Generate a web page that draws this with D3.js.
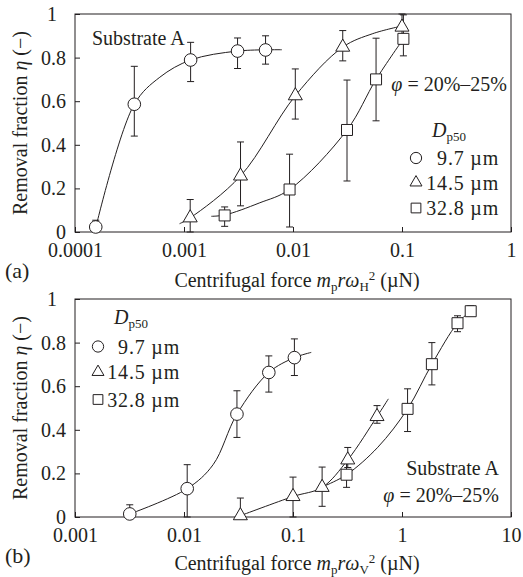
<!DOCTYPE html>
<html>
<head>
<meta charset="utf-8">
<script src="https://cdn.jsdelivr.net/npm/d3@7"></script>
</head>
<body style="margin:0;background:#fff">
<div id="container"></div>
<script>
const width = 523; // page size
const height = 577;
const marginLeft = 75; // left edge of both plot frames
const plotWidth = 436;
const plotHeight = 218;
const ink = "#231f20";
const serif = "Liberation Serif";
const fontSize = 20;
const smallSize = 13;

// shared bits
const sizeLabels = ["9.7 µm", "14.5 µm", "32.8 µm"];
const shapes = ["circle", "triangle", "square"];
const yTicks = [0, 0.2, 0.4, 0.6, 0.8, 1];
const yTickLabels = ["0", "0.2", "0.4", "0.6", "0.8", "1"];

// (a) force mp r ωH^2 (µN)
const xTicksA = [0.0001, 0.001, 0.01, 0.1, 1];
const xTickLabelsA = ["0.0001", "0.001", "0.01", "0.1", "1"];

const forceA97 = [0.000155, 0.00035, 0.00115, 0.0031, 0.0056];
const etaA97 = [0.023, 0.586, 0.789, 0.830, 0.835];
const lowA97 = [0.0, 0.44, 0.69, 0.75, 0.77];
const highA97 = [0.054, 0.76, 0.87, 0.89, 0.90];

const forceA145 = [0.00114, 0.0033, 0.0105, 0.0286, 0.1];
const etaA145 = [0.065, 0.257, 0.625, 0.848, 0.94];
const lowA145 = [0.0, 0.12, 0.518, 0.785, 0.878];
const highA145 = [0.149, 0.413, 0.748, 0.924, 1.0];

const forceA328 = [0.00236, 0.0093, 0.0313, 0.0578, 0.103];
const etaA328 = [0.076, 0.195, 0.468, 0.70, 0.886];
const lowA328 = [0.026, 0.023, 0.234, 0.51, 0.808];
const highA328 = [0.115, 0.357, 0.697, 0.889, 0.996];

// fitted curves in (a)
const fitA97 = [[0.000155, 0.02], [0.00035, 0.586], [0.0006, 0.71], [0.00115, 0.789], [0.0031, 0.83], [0.0079, 0.836]];
const fitA145 = [[0.00091, 0.038], [0.00114, 0.065], [0.0033, 0.257], [0.0105, 0.625], [0.0286, 0.848], [0.054, 0.91], [0.1, 0.945]];
const fitA328 = [[0.00178, 0.072], [0.00236, 0.078], [0.0049, 0.133], [0.0093, 0.195], [0.0313, 0.468], [0.0578, 0.70], [0.103, 0.886]];

// (b) force mp r ωV^2 (µN)
const xTicksB = [0.001, 0.01, 0.1, 1, 10];
const xTickLabelsB = ["0.001", "0.01", "0.1", "1", "10"];

const forceB97 = [0.00318, 0.0107, 0.0306, 0.06, 0.103];
const etaB97 = [0.014, 0.13, 0.472, 0.663, 0.731];
const lowB97 = [0.0, 0.0, 0.365, 0.573, 0.649];
const highB97 = [0.056, 0.24, 0.579, 0.739, 0.817];

const forceB145 = [0.0329, 0.1, 0.185, 0.318, 0.59];
const etaB145 = [0.006, 0.094, 0.136, 0.262, 0.461];
const lowB145 = [0.0, 0.0, 0.049, 0.227, 0.43];
const highB145 = [0.087, 0.183, 0.229, 0.319, 0.511];

const forceB328 = [0.31, 1.125, 1.88, 3.23, 4.27];
const etaB328 = [0.194, 0.496, 0.701, 0.889, 0.944];
const lowB328 = [0.136, 0.392, 0.606, 0.85, 0.935];
const highB328 = [0.25, 0.588, 0.80, 0.923, 0.969];

const fitB97 = [[0.00318, 0.014], [0.0107, 0.13], [0.0185, 0.24], [0.0306, 0.472], [0.06, 0.663], [0.103, 0.731], [0.147, 0.755]];
const fitB145 = [[0.0329, 0.006], [0.1, 0.094], [0.185, 0.136], [0.318, 0.262], [0.59, 0.461], [0.75, 0.542]];
const fitB328 = [[0.2, 0.145], [0.31, 0.194], [0.6, 0.32], [1.125, 0.496], [1.88, 0.701], [3.23, 0.889], [4.27, 0.944]];

const svg = d3.select("#container").append("svg")
  .attr("width", width)
  .attr("height", height)
  .attr("font-family", serif);

const markerSize = { circle: 125, triangle: 85, square: 121 };
const legendSize = { circle: 100, triangle: 62, square: 95 };
const symbolType = { circle: d3.symbolCircle, triangle: d3.symbolTriangle, square: d3.symbolSquare };

function drawMarker(g, shape, cx, cy, size) {
  g.append("path")
    .attr("d", d3.symbol(symbolType[shape], size)())
    .attr("transform", `translate(${cx},${cy})`)
    .attr("fill", "#fff")
    .attr("stroke", ink)
    .attr("stroke-width", 1);
}

/**
 * Text with italic parts, subscripts and superscripts.
 * parts: [string, kind] with kind one of n, i, sub, sup
 */
function richText(g, x, y, parts, anchor) {
  const t = g.append("text")
    .attr("x", x)
    .attr("y", y)
    .attr("font-family", serif)
    .attr("font-size", fontSize)
    .attr("fill", ink)
    .attr("text-anchor", anchor || "start");
  let shift = 0;
  parts.forEach(([str, kind]) => {
    const target = kind === "sub" ? 4 : kind === "sup" ? -7 : 0;
    const ts = t.append("tspan").text(str).attr("dy", target - shift);
    if (kind === "i") ts.attr("font-style", "italic");
    if (kind === "sub" || kind === "sup") ts.attr("font-size", smallSize);
    shift = target;
  });
  return t;
}

function drawPanel(p) {
  const x = d3.scaleLog().domain(p.domain).range([marginLeft, marginLeft + plotWidth]);
  const y = d3.scaleLinear().domain([0, 1]).range([p.top + plotHeight, p.top]);
  const g = svg.append("g");

  g.append("g")
    .attr("transform", `translate(0,${p.top + plotHeight})`)
    .call(d3.axisBottom(x).tickValues(p.ticks).tickFormat((d, i) => p.tickLabels[i])
      .tickSizeInner(-5).tickSizeOuter(0).tickPadding(11))
    .call(a => a.select(".domain").remove())
    .attr("font-size", fontSize)
    .attr("font-family", serif)
    .call(a => a.selectAll("line").attr("stroke", ink))
    .call(a => a.selectAll("text").attr("fill", ink));

  g.append("g")
    .attr("transform", `translate(${marginLeft},0)`)
    .call(d3.axisLeft(y).tickValues(yTicks).tickFormat((d, i) => yTickLabels[i])
      .tickSizeInner(-5).tickSizeOuter(0).tickPadding(9))
    .call(a => a.select(".domain").remove())
    .attr("font-size", fontSize)
    .attr("font-family", serif)
    .call(a => a.selectAll("line").attr("stroke", ink))
    .call(a => a.selectAll("text").attr("fill", ink))
    .call(a => a.selectAll("text").filter(d => d === 1).attr("dx", -9));

  g.append("rect")
    .attr("x", marginLeft)
    .attr("y", p.top)
    .attr("width", plotWidth)
    .attr("height", plotHeight)
    .attr("fill", "none")
    .attr("stroke", ink)
    .attr("stroke-width", 1);

  const line = d3.line()
    .x(d => x(d[0]))
    .y(d => y(d[1]))
    .curve(d3.curveCatmullRom.alpha(0.5));

  // fits first, then error bars, then the open markers on top
  p.series.forEach(s => {
    g.append("path")
      .datum(s.fit)
      .attr("d", line)
      .attr("fill", "none")
      .attr("stroke", ink)
      .attr("stroke-width", 1);
  });

  p.series.forEach(s => {
    s.force.forEach((f, i) => {
      const cx = x(f);
      const bar = g.append("g").attr("stroke", ink).attr("stroke-width", 1);
      bar.append("line").attr("x1", cx).attr("x2", cx).attr("y1", y(s.low[i])).attr("y2", y(s.high[i]));
      [s.low[i], s.high[i]].forEach(v => {
        bar.append("line").attr("x1", cx - 3.5).attr("x2", cx + 3.5).attr("y1", y(v)).attr("y2", y(v));
      });
    });
  });

  p.series.forEach(s => {
    s.force.forEach((f, i) => drawMarker(g, s.shape, x(f), y(s.eta[i]), markerSize[s.shape]));
  });

  // legend
  richText(g, p.legend.x + 16, p.legend.y, [["D", "i"], ["p50", "sub"]]);
  sizeLabels.forEach((label, i) => {
    drawMarker(g, shapes[i], p.legend.x, p.legend.rows[i] - 7, legendSize[shapes[i]]);
    richText(g, p.legend.textEnd, p.legend.rows[i], [[label, "n"]], "end")
      .attr("letter-spacing", 0.8);
  });

  richText(g, p.substrate[0], p.substrate[1], [["Substrate A", "n"]], p.substrate[2]);
  richText(g, p.phi[0], p.phi[1], [["φ", "i"], [" = 20%–25%", "n"]], p.phi[2]);

  richText(g, 5, p.top + plotHeight + 46, [["(" + p.tag + ")", "n"]]).attr("font-size", 22);

  richText(g, 297, p.top + plotHeight + p.titleGap, [
    ["Centrifugal force ", "n"], ["m", "i"], ["p", "sub"], ["rω", "i"], [p.omega, "sub"], ["2", "sup"], [" (µN)", "n"]
  ], "middle");

  richText(g, 0, 0, [["Removal fraction ", "n"], ["η", "i"], [" (−)", "n"]], "middle")
    .attr("transform", `translate(27,${p.top + plotHeight / 2}) rotate(-90)`);
}

drawPanel({
  tag: "a",
  omega: "H",
  top: 14,
  titleGap: 55,
  domain: [0.0001, 1],
  ticks: xTicksA,
  tickLabels: xTickLabelsA,
  series: [
    { shape: "circle", force: forceA97, eta: etaA97, low: lowA97, high: highA97, fit: fitA97 },
    { shape: "triangle", force: forceA145, eta: etaA145, low: lowA145, high: highA145, fit: fitA145 },
    { shape: "square", force: forceA328, eta: etaA328, low: lowA328, high: highA328, fit: fitA328 }
  ],
  legend: { x: 416, y: 137, textEnd: 499, rows: [165, 189.5, 215] },
  substrate: [92, 45, "start"],
  phi: [507, 91, "end"]
});

drawPanel({
  tag: "b",
  omega: "V",
  top: 299,
  titleGap: 53,
  domain: [0.001, 10],
  ticks: xTicksB,
  tickLabels: xTickLabelsB,
  series: [
    { shape: "circle", force: forceB97, eta: etaB97, low: lowB97, high: highB97, fit: fitB97 },
    { shape: "triangle", force: forceB145, eta: etaB145, low: lowB145, high: highB145, fit: fitB145 },
    { shape: "square", force: forceB328, eta: etaB328, low: lowB328, high: highB328, fit: fitB328 }
  ],
  legend: { x: 98, y: 324, textEnd: 180, rows: [353.5, 379, 406.5] },
  substrate: [499, 474.5, "end"],
  phi: [499, 502, "end"]
});
</script>
</body>
</html>
